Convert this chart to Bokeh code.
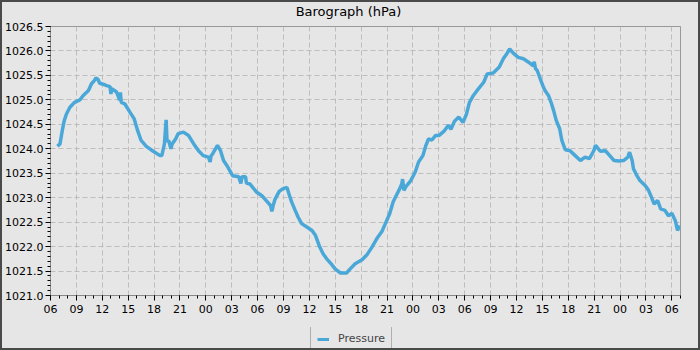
from bokeh.plotting import figure
from bokeh.layouts import column
from bokeh.core.properties import value
from bokeh.models import Range1d, FixedTicker, Legend, LegendItem, PrintfTickFormatter
from bokeh.embed import file_html
from bokeh.resources import INLINE

# hours since 06:00 of the first day
hours = [0.8, 1.1, 1.36, 1.6, 1.85, 2.25, 2.8, 3.4, 3.8, 4.4, 4.75, 5.1, 5.26, 5.5, 5.7,
         6.1, 6.5, 6.9, 7.0, 7.1, 7.65, 7.9, 8.0, 8.1, 8.2, 8.6, 9.2, 9.7, 10.1, 10.5,
         11.1, 11.9, 12.7, 12.9, 13.2, 13.4, 13.5, 13.7, 13.95, 14.1, 14.5, 14.8, 15.4,
         16.0, 16.6, 17.15, 17.7, 18.3, 18.5, 18.6, 18.8, 19.35, 19.7, 20.05, 20.5, 21.1,
         21.8, 22.06, 22.2, 22.6, 22.7, 23.1, 23.9, 24.5, 25.0, 25.5, 25.65, 25.8, 26.0,
         26.5, 26.9, 27.4, 27.7, 27.95, 28.35, 28.7, 29.1, 29.7, 30.3, 30.7, 31.2, 31.6,
         32.0, 32.5, 33.0, 33.6, 34.3, 34.7, 35.3, 36.1, 36.7, 37.25, 37.8, 38.4, 38.8,
         39.3, 39.7, 40.05, 40.4, 40.7, 40.8, 40.95, 41.2, 41.75, 42.25, 42.65, 43.15,
         43.5, 43.8, 44.2, 44.6, 45.0, 45.6, 46.1, 46.4, 46.8, 47.3, 47.8, 48.2, 48.55,
         49.0, 49.6, 50.2, 50.6, 51.3, 52.0, 52.5, 52.9, 53.2, 53.65, 54.2, 54.8, 55.4,
         55.9, 56.05, 56.2, 56.4, 56.75, 57.05, 57.3, 57.7, 58.0, 58.3, 58.6, 59.0, 59.25,
         59.65, 60.2, 60.8, 61.4, 61.95, 62.45, 62.95, 63.15, 63.7, 64.3, 64.8, 65.3,
         65.85, 66.4, 66.9, 67.1, 67.4, 67.55, 67.95, 68.3, 68.9, 69.3, 69.7, 69.95,
         70.35, 70.7, 71.2, 71.6, 72.0, 72.4, 72.65, 72.9]

pressure = [1024.05, 1024.10, 1024.37, 1024.58, 1024.71, 1024.85, 1024.95, 1025.00, 1025.09,
            1025.19, 1025.33, 1025.40, 1025.45, 1025.42, 1025.34, 1025.32, 1025.29, 1025.27,
            1025.12, 1025.23, 1025.16, 1025.05, 1024.99, 1025.15, 1024.95, 1024.92, 1024.75,
            1024.61, 1024.37, 1024.17, 1024.05, 1023.95, 1023.86, 1023.86, 1024.10, 1024.59,
            1024.15, 1024.17, 1024.00, 1024.10, 1024.20, 1024.31, 1024.34, 1024.27, 1024.10,
            1023.96, 1023.86, 1023.83, 1023.73, 1023.85, 1023.90, 1024.07, 1023.96, 1023.76,
            1023.64, 1023.45, 1023.43, 1023.29, 1023.43, 1023.43, 1023.30, 1023.28, 1023.11,
            1023.04, 1022.94, 1022.84, 1022.72, 1022.84, 1022.96, 1023.13, 1023.18, 1023.21,
            1023.04, 1022.91, 1022.74, 1022.60, 1022.47, 1022.40, 1022.33, 1022.23, 1021.99,
            1021.85, 1021.75, 1021.65, 1021.54, 1021.46, 1021.46, 1021.54, 1021.65, 1021.73,
            1021.84, 1021.99, 1022.16, 1022.31, 1022.47, 1022.67, 1022.91, 1023.04, 1023.16,
            1023.28, 1023.38, 1023.15, 1023.23, 1023.35, 1023.52, 1023.73, 1023.86, 1024.07,
            1024.20, 1024.18, 1024.27, 1024.27, 1024.36, 1024.48, 1024.40, 1024.56, 1024.65,
            1024.54, 1024.71, 1024.95, 1025.09, 1025.23, 1025.36, 1025.53, 1025.55, 1025.67,
            1025.85, 1025.95, 1026.04, 1025.95, 1025.87, 1025.84, 1025.77, 1025.70, 1025.78,
            1025.64, 1025.60, 1025.43, 1025.29, 1025.19, 1025.09, 1024.95, 1024.78, 1024.58,
            1024.41, 1024.17, 1023.98, 1023.96, 1023.86, 1023.76, 1023.83, 1023.80, 1023.96,
            1024.07, 1023.95, 1023.96, 1023.86, 1023.76, 1023.75, 1023.76, 1023.83, 1023.93,
            1023.76, 1023.59, 1023.45, 1023.35, 1023.25, 1023.15, 1022.98, 1022.87, 1022.94,
            1022.77, 1022.74, 1022.63, 1022.68, 1022.53, 1022.33, 1022.43]

x_tick_hours = list(range(0, 73, 3))
x_tick_labels = ["06", "09", "12", "15", "18", "21", "00", "03",
                 "06", "09", "12", "15", "18", "21", "00", "03",
                 "06", "09", "12", "15", "18", "21", "00", "03", "06"]
y_ticks = [1021.0, 1021.5, 1022.0, 1022.5, 1023.0, 1023.5, 1024.0, 1024.5,
           1025.0, 1025.5, 1026.0, 1026.5]
series_name = "Pressure"
chart_title = "Barograph (hPa)"

BG = "#e6e6e6"
FONT = "DejaVu Sans"
LINE = "#4aa8d9"

# ---- title strip (frame spans the same pixels as the chart frame: 630 px) ----
p0 = figure(width=696, height=17, output_backend="svg", toolbar_location=None,
            x_range=Range1d(0, 630), y_range=Range1d(0, 17),
            x_axis_type=None, y_axis_type=None,
            min_border_left=48, min_border_right=18, min_border_top=0, min_border_bottom=0)
p0.background_fill_color = BG
p0.border_fill_color = BG
p0.outline_line_color = None
p0.text(x=[298], y=[8], text=[chart_title], text_font=value(FONT),
        text_font_size="13px", text_color="#000000",
        text_align="center", text_baseline="middle")

# ---- main chart ----
p = figure(width=696, height=308, output_backend="svg", toolbar_location=None,
           x_range=Range1d(0, 73), y_range=Range1d(1021.0, 1026.5),
           min_border_left=48, min_border_right=18, min_border_top=7, min_border_bottom=32)

p.background_fill_color = BG
p.border_fill_color = BG
p.outline_line_color = "#999999"

p.line(hours, pressure, line_color=LINE, line_width=3.5)

p.xaxis.ticker = FixedTicker(ticks=x_tick_hours, minor_ticks=list(range(0, 74)))
p.xaxis.major_label_overrides = {h: lab for h, lab in zip(x_tick_hours, x_tick_labels)}
p.yaxis.ticker = FixedTicker(ticks=y_ticks,
                             minor_ticks=[round(1021.0 + 0.1 * i, 1) for i in range(56)])
p.yaxis.formatter = PrintfTickFormatter(format="%.1f")

for ax in (p.xaxis[0], p.yaxis[0]):
    ax.axis_line_color = "#888888"
    ax.major_tick_line_color = "#000000"
    ax.minor_tick_line_color = "#000000"
    ax.major_tick_in = 0
    ax.major_tick_out = 5
    ax.minor_tick_in = 0
    ax.minor_tick_out = 3
    ax.major_label_text_font = FONT
    ax.major_label_text_font_size = "11px"
    ax.major_label_text_color = "#000000"
p.yaxis.major_label_standoff = 2
p.xaxis.major_label_standoff = 4

p.grid.grid_line_color = "#bdbdbd"
p.grid.grid_line_dash = "5 3"
p.grid.grid_line_width = 1

# ---- legend strip below the chart ----
p2 = figure(width=696, height=21, output_backend="svg", toolbar_location=None,
            x_range=Range1d(-1, 0), y_range=Range1d(-1, 0),
            x_axis_type=None, y_axis_type=None,
            min_border_left=48, min_border_right=18, min_border_top=0, min_border_bottom=0)
p2.background_fill_color = BG
p2.border_fill_color = BG
p2.outline_line_color = None
# same series, outside this strip's visible range: only used for the legend swatch
r2 = p2.line(hours, pressure, line_color=LINE, line_width=3)

legend = Legend(items=[LegendItem(label=series_name, renderers=[r2])],
                location=(260, -4), orientation="horizontal",
                background_fill_color=BG, background_fill_alpha=1.0,
                border_line_color="#777777", border_line_width=1,
                label_text_font=FONT, label_text_font_size="11px",
                glyph_width=12, glyph_height=12, label_standoff=9,
                padding=6, margin=0, spacing=0, label_height=12)
p2.add_layout(legend)

layout = column(p0, p, p2, spacing=0,
                styles={"border": "2px solid #4a4a4a", "background-color": BG})

open("out.html", "w").write(file_html(layout, INLINE))
